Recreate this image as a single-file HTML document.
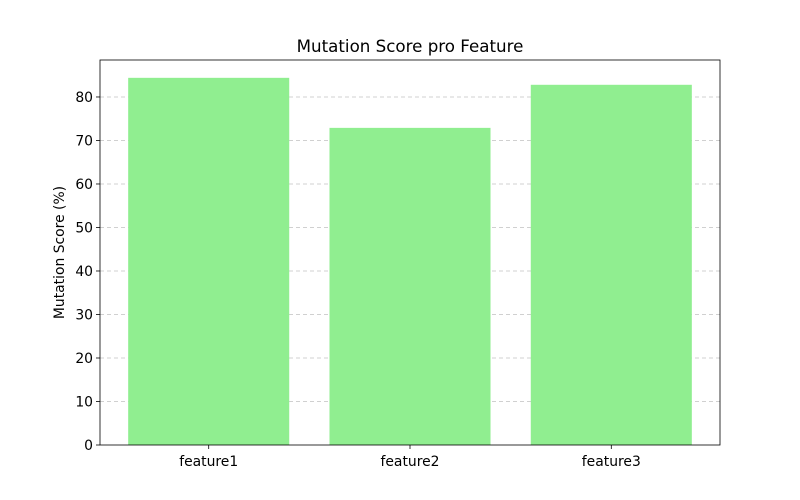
<!DOCTYPE html>
<html><head><meta charset="utf-8"><style>
body{margin:0;background:#fff;}
svg{display:block;font-family:"DejaVu Sans","Liberation Sans",sans-serif;}
</style></head><body>
<svg id="chart" width="800" height="500"></svg>
<script>
const categories=["feature1","feature2","feature3"];
const scores=[84.4,72.9,82.8];
const yTicks=[0,10,20,30,40,50,60,70,80];
const NS="http://www.w3.org/2000/svg";
const svg=document.getElementById('chart');
const L=100,R=720,T=60,B=445;
const xMin=-0.54,xMax=2.54,yMax=88.5;
const xs=v=>L+(v-xMin)/(xMax-xMin)*(R-L);
const ys=v=>B-v/yMax*(B-T);
function mk(tag,attrs,text){const e=document.createElementNS(NS,tag);for(const k in attrs)e.setAttribute(k,attrs[k]);if(text!==undefined)e.textContent=text;svg.appendChild(e);return e;}
yTicks.forEach(t=>{
  const y=ys(t);
  if(t>0){const g=mk('line',{x1:L,x2:R,y1:y,y2:y,stroke:'#b0b0b0','stroke-width':0.8,'stroke-dasharray':'4,3','stroke-opacity':0.8});
  
  }
  const tk=mk('line',{x1:L-4,x2:L,y1:y,y2:y,stroke:'#000','stroke-width':0.8});
  
  
  const lb=mk('text',{x:L-7,y:y+5,'text-anchor':'end','font-size':13.9},String(t));
  
  
});
categories.forEach((c,i)=>{
  const x0=xs(i-0.4),x1=xs(i+0.4);
  const r=mk('rect',{x:x0,y:ys(scores[i]),width:x1-x0,height:B-ys(scores[i]),fill:'#90ee90'});
  
  
  const tk=mk('line',{x1:xs(i),x2:xs(i),y1:B,y2:B+4,stroke:'#000','stroke-width':0.8});
  
  
  const lb=mk('text',{x:xs(i),y:B+21,'text-anchor':'middle','font-size':13.9},c);
  
  
});
const fr=mk('rect',{x:L,y:T,width:R-L,height:B-T,fill:'none',stroke:'#000','stroke-width':0.8});


const ti=mk('text',{x:(L+R)/2,y:52,'text-anchor':'middle','font-size':16.7},'Mutation Score pro Feature');


const yt=mk('text',{x:0,y:0,'text-anchor':'middle','font-size':13.9,transform:'translate(64,'+((T+B)/2)+') rotate(-90)'},'Mutation Score (%)');


</script>
</body></html>
